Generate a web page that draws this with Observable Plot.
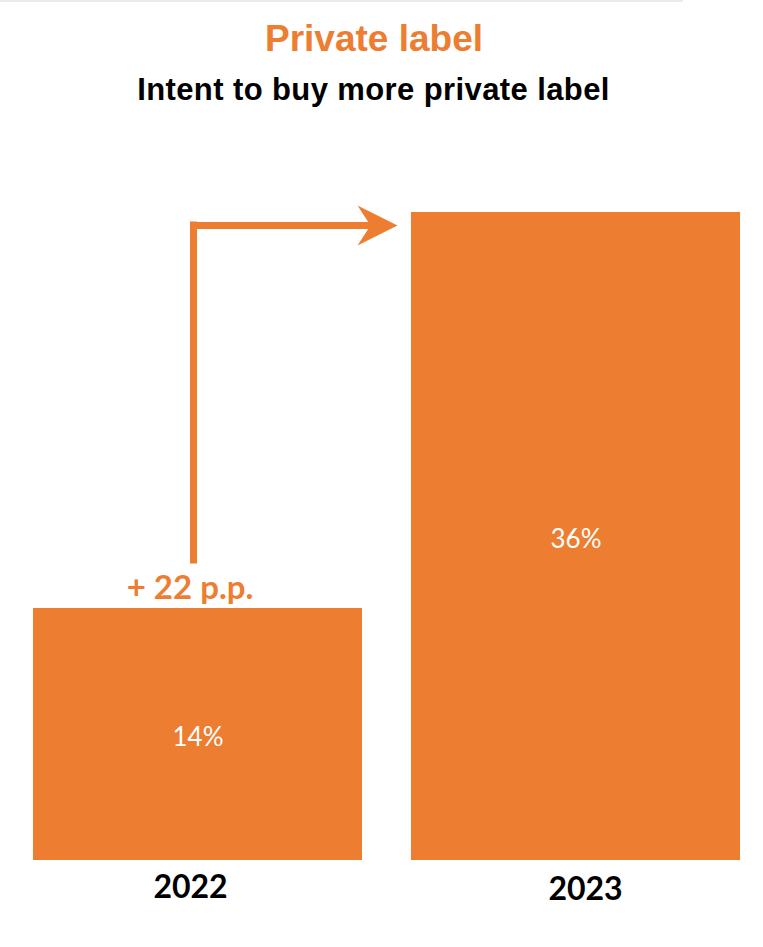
<!DOCTYPE html>
<html>
<head>
<meta charset="utf-8">
<script src="https://cdn.jsdelivr.net/npm/d3@7"></script>
<script src="https://cdn.jsdelivr.net/npm/@observablehq/plot@0.6"></script>
<style>
  html, body { margin: 0; padding: 0; background: #fff; }
  #wrap { position: relative; width: 763px; }
  #topline { position: absolute; left: 0; top: 0; width: 683px; height: 2px; background: #ebebeb; }
  #header { position: relative; height: 130px; }
  #title { position: absolute; left: 0; width: 748px; top: 18px; text-align: center;
    font-family: "Liberation Sans", Arial, sans-serif; font-weight: bold; font-size: 37px; color: #ED7D31; line-height: 42px; }
  #subtitle { position: absolute; left: 0; width: 747px; top: 72px; text-align: center;
    font-family: "Liberation Sans", Arial, sans-serif; font-weight: bold; font-size: 31px; letter-spacing: 0.4px; color: #000; line-height: 36px; }
  svg { display: block; }
</style>
</head>
<body>
<div id="wrap">
  <div id="topline"></div>
  <div id="header">
    <div id="title"></div>
    <div id="subtitle"></div>
  </div>
  <div id="chart"></div>
</div>
<script>
const titleText = "Private label";
const subtitleText = "Intent to buy more private label";
const years = ["2022", "2023"];
const shares = [14, 36];
const shareLabels = ["14%", "36%"];
const changeLabel = "+ 22 p.p.";

const ORANGE = "#ED7D31";
document.getElementById("title").textContent = titleText;
document.getElementById("subtitle").textContent = subtitleText;

const data = years.map((year, i) => ({year, share: shares[i], label: shareLabels[i]}));
const from = data[0], to = data[1];

const stealth = {
  draw(ctx) {
    ctx.moveTo(0, 0);
    ctx.lineTo(-40, -20);
    ctx.lineTo(-27, 0);
    ctx.lineTo(-40, 20);
    ctx.closePath();
  }
};

const chart = Plot.plot({
  width: 763,
  height: 817,
  marginLeft: 33,
  marginRight: 23,
  marginTop: 10,
  marginBottom: 87,
  x: {domain: years, paddingInner: 0.13, paddingOuter: 0, axis: null},
  y: {domain: [0, 40], axis: null},
  marks: [
    Plot.barY(data, {x: "year", y: "share", fill: ORANGE}),
    Plot.text(data, {x: "year", y: d => d.share / 2, text: "label", fill: "white",
      fontSize: 26, fontFamily: "Lato", dy: 3}),
    Plot.text([from], {x: "year", y: 0, text: "year", dx: -7.5, dy: 27, fontSize: 32,
      fontWeight: "bold", fontFamily: "Lato", fill: "#000"}),
    Plot.text([to], {x: "year", y: 0, text: "year", dx: 9.5, dy: 29, fontSize: 32,
      fontWeight: "bold", fontFamily: "Lato", fill: "#000"}),
    Plot.ruleX([from], {x: "year", y1: () => to.share, y2: "share", dx: -4.5,
      insetTop: 9.5, insetBottom: 44.5, stroke: ORANGE, strokeWidth: 7}),
    Plot.arrow([{from, to}], {x1: d => d.from.year, x2: d => d.to.year,
      y1: d => d.to.share, y2: d => d.to.share, dx: -4.5, dy: 13,
      insetStart: -3.5, insetEnd: 196, headLength: 0, strokeWidth: 7,
      stroke: ORANGE, strokeLinecap: "butt"}),
    Plot.dot([to], {x: "year", y: "share", dx: -178.5, dy: 13, symbol: stealth,
      r: 10, fill: ORANGE, stroke: "none"}),
    Plot.text([from], {x: "year", y: "share", text: () => changeLabel, dx: -8, dy: -20,
      fontSize: 33, fontWeight: "bold", fontFamily: "Lato", fill: ORANGE})
  ]
});
document.getElementById("chart").appendChild(chart);
</script>
</body>
</html>
